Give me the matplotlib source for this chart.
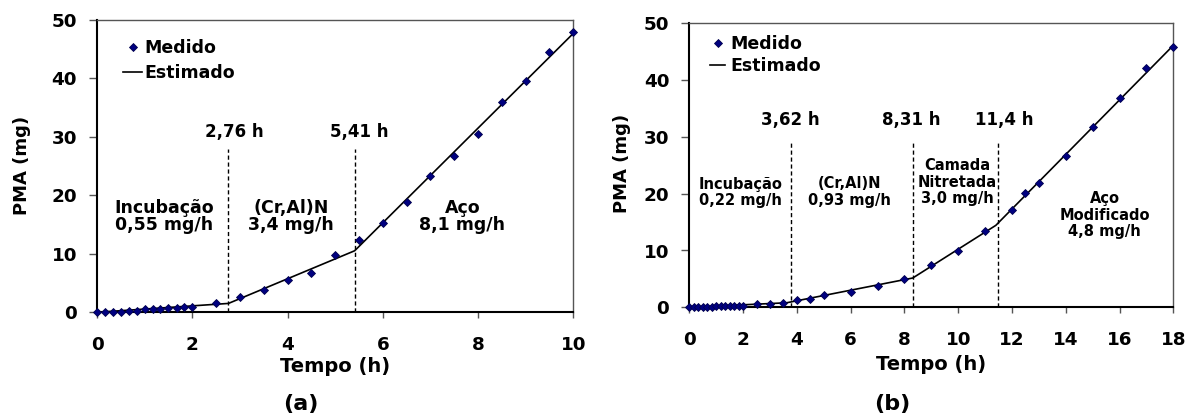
import matplotlib
matplotlib.use("Agg")
import matplotlib.pyplot as plt
from matplotlib.lines import Line2D

# ---------------- data ----------------
# Panel (a)
ta = [0, 0.17, 0.33, 0.5, 0.67, 0.83, 1.0, 1.17, 1.33, 1.5, 1.67, 1.83, 2.0,
      2.5, 3.0, 3.5, 4.0, 4.5, 5.0, 5.5, 6.0, 6.5, 7.0, 7.5, 8.0, 8.5, 9.0, 9.5, 10.0]
ma = [0, 0, 0, 0.1, 0.25, 0.25, 0.55, 0.6, 0.6, 0.7, 0.75, 0.9, 0.9,
      1.55, 2.65, 3.9, 5.55, 6.7, 9.75, 12.3, 15.2, 18.9, 23.3, 26.8, 30.5, 35.9, 39.6, 44.5, 47.9]
break_a = [0, 2.76, 5.41, 10]
rate_a = [0.55, 3.4, 8.1]
vline_a = [2.76, 5.41]
vlabel_a = ["2,76 h", "5,41 h"]
phase_a = ["Incubação\n0,55 mg/h", "(Cr,Al)N\n3,4 mg/h", "Aço\n8,1 mg/h"]

# Panel (b)
tb = [0, 0.17, 0.33, 0.5, 0.67, 0.83, 1.0, 1.17, 1.33, 1.5, 1.67, 1.83, 2.0,
      2.5, 3.0, 3.5, 4.0, 4.5, 5.0, 6.0, 7.0, 8.0, 9.0, 10.0, 11.0, 12.0, 12.5,
      13.0, 14.0, 15.0, 16.0, 17.0, 18.0]
mb = [0, 0, 0, 0, 0.1, 0.1, 0.15, 0.2, 0.2, 0.22, 0.22, 0.22, 0.22,
      0.53, 0.64, 0.82, 1.23, 1.46, 2.22, 2.7, 3.75, 5.04, 7.39, 9.9, 13.4, 17.2, 20.1,
      21.9, 26.7, 31.8, 36.8, 42.1, 45.8]
break_b = [0, 3.62, 8.31, 11.4, 18]
rate_b = [0.22, 0.93, 3.0, 4.8]
vline_b = [3.78, 8.31, 11.48]
vlabel_b = ["3,62 h", "8,31 h", "11,4 h"]
phase_b = ["Incubação\n0,22 mg/h", "(Cr,Al)N\n0,93 mg/h",
           "Camada\nNitretada\n3,0 mg/h", "Aço\nModificado\n4,8 mg/h"]

xticks_a = [0, 2, 4, 6, 8, 10]
xticks_b = [0, 2, 4, 6, 8, 10, 12, 14, 16, 18]
yticks = [0, 10, 20, 30, 40, 50]

legend_labels = ["Medido", "Estimado"]
xlabel = "Tempo (h)"
ylabel = "PMA (mg)"
panel_labels = ["(a)", "(b)"]


def estimated(breaks, rates):
    y = [0.0]
    for i, r in enumerate(rates):
        y.append(y[-1] + r * (breaks[i + 1] - breaks[i]))
    return breaks, y


plt.rcParams['font.family'] = ['DejaVu Sans']
plt.rcParams['font.weight'] = 'bold'

fig = plt.figure(figsize=(11.94, 4.19), dpi=100)
axa = fig.add_axes([97 / 1194, 1 - 312.3 / 419, 476.3 / 1194, 292.3 / 419])
axb = fig.add_axes([689.3 / 1194, 1 - 307.3 / 419, 484 / 1194, 284 / 419])

MK = dict(marker='D', markersize=3.6, color='#000080', markeredgecolor='#00004d',
          markeredgewidth=0.6, linestyle='none', clip_on=False, zorder=4)


def style(ax, xmax, xt, xpad):
    ax.set_xlim(0, xmax)
    ax.set_ylim(0, 50)
    ax.set_xticks(xt)
    ax.set_yticks(yticks)
    for s in ['left', 'bottom']:
        ax.spines[s].set_color('black')
        ax.spines[s].set_linewidth(1.5)
    for s in ['top', 'right']:
        ax.spines[s].set_color('#555555')
        ax.spines[s].set_linewidth(1.0)
    ax.tick_params(axis='x', length=4.5, width=1, color='#555555', pad=xpad,
                   labelsize=13.2)
    ax.tick_params(axis='y', length=6, width=1, color='#555555', pad=8.4,
                   labelsize=13.2)
    for lab in ax.get_xticklabels() + ax.get_yticklabels():
        lab.set_fontweight('bold')


# ---- panel (a)
style(axa, 10, xticks_a, 12.8)
axa.plot(ta, ma, **MK)
bx, by = estimated(break_a, rate_a)
axa.plot(bx, by, color='black', lw=1.2, zorder=3)
for v in vline_a:
    axa.plot([v, v], [0, 28], color='black', lw=1.0, ls=(0, (3, 2)), zorder=2)
for lab, x in zip(vlabel_a, [2.88, 5.5]):
    axa.text(x, 30.8, lab, ha='center', va='center', fontsize=12, fontweight='bold')
for lab, x in zip(phase_a, [1.41, 4.08, 7.67]):
    axa.text(x, 16.35, lab, ha='center', va='center', fontsize=12.5,
             fontweight='bold', linespacing=0.95)

# ---- panel (b)
style(axb, 18, xticks_b, 12.8)
axb.plot(tb, mb, **MK)
bx, by = estimated(break_b, rate_b)
axb.plot(bx, by, color='black', lw=1.2, zorder=3)
for v in vline_b:
    axb.plot([v, v], [0, 29], color='black', lw=1.0, ls=(0, (3, 2)), zorder=2)
for lab, x in zip(vlabel_b, [3.77, 8.25, 11.7]):
    axb.text(x, 32.9, lab, ha='center', va='center', fontsize=12, fontweight='bold')
for lab, (x, y) in zip(phase_b, [(1.92, 20.2), (5.96, 20.35), (9.96, 22.05), (15.45, 16.25)]):
    axb.text(x, y, lab, ha='center', va='center', fontsize=10.5,
             fontweight='bold', linespacing=1.15)

# ---- legends
for ax, anchor, hl, htp, ls in [(axa, (0.0546, 0.936), 1.1, 0.15, 0.4),
                                (axb, (0.043, 0.958), 0.86, 0.29, 0.2)]:
    handles = [Line2D([], [], marker='D', markersize=3.6, color='#000080',
                      markeredgecolor='#00004d', markeredgewidth=0.6, linestyle='none'),
               Line2D([], [], color='black', lw=1.2)]
    ax.legend(handles, legend_labels, loc='upper left', bbox_to_anchor=anchor,
              frameon=False, borderpad=0, borderaxespad=0, handlelength=hl,
              handletextpad=htp, labelspacing=ls,
              prop={'size': 12.5, 'weight': 'bold'})

# ---- axis labels
for ax, xl_y, yl_x, yl_y in [(axa, -0.186, -0.157, 0.503), (axb, -0.2, -0.14, 0.508)]:
    ax.set_xlabel(xlabel, fontsize=14, fontweight='bold', va='center')
    ax.xaxis.set_label_coords(0.5, xl_y)
    ax.set_ylabel(ylabel, fontsize=13, fontweight='bold', va='center')
    ax.yaxis.set_label_coords(yl_x, yl_y)

fig.text(301 / 1194, 1 - 404 / 419, panel_labels[0], ha='center', va='center',
         fontsize=16, fontweight='bold')
fig.text(892.7 / 1194, 1 - 403.7 / 419, panel_labels[1], ha='center', va='center',
         fontsize=16, fontweight='bold')

fig.savefig("out.png", dpi=100)
